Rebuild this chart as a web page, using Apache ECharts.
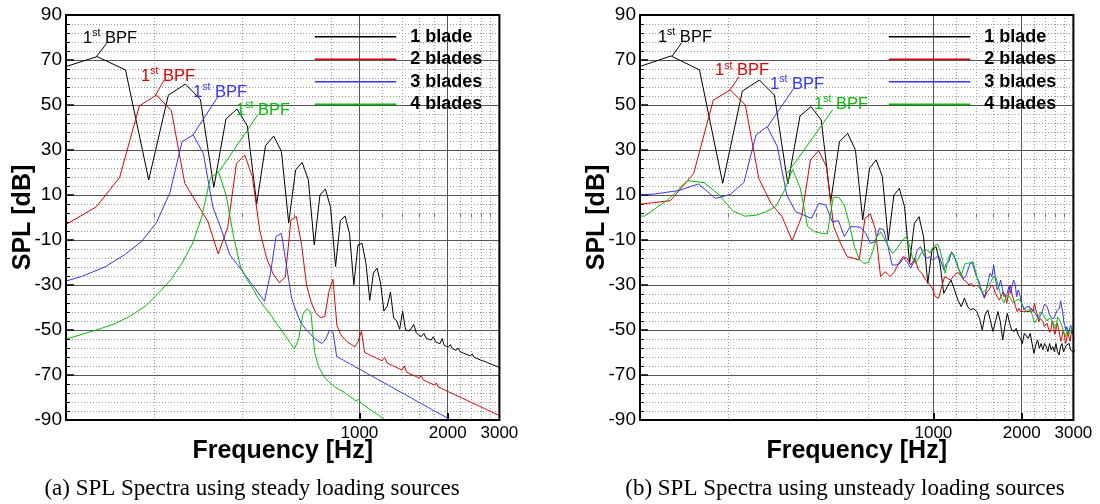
<!DOCTYPE html>
<html><head><meta charset="utf-8">
<script src="https://cdn.jsdelivr.net/npm/echarts@6/dist/echarts.min.js"></script>
<style>html,body{margin:0;padding:0;background:#fff}#c{width:1100px;height:504px}</style>
</head><body><div id="c"></div>
<script>
// ---------- DATA (frequency grids per blade count, SPL values per case) ----------
const SERIES_NAMES = ['1 blade', '2 blades', '3 blades', '4 blades'];

const FREQ_1 = [95.7,127.6,159.5,191.4,223.3,255.2,287.1,319,350.9,382.8,414.7,446.6,478.5,510.4,542.3,574.2,606.1,638,669.9,701.8,733.7,765.6,797.5,829.4,861.3,893.2,925.1,957,988.9,1020.8,1052.7,1084.6,1116.5,1148.4,1180.3,1212.2,1244.1,1276,1307.9,1339.8,1371.7,1403.6,1435.5,1467.4,1499.3,1531.2,1563.1,1595,1626.9,1658.8,1690.7,1722.6,1754.5,1786.4,1818.3,1850.2,1882.1,1914,1945.9,1977.8,2009.7,2041.6,2073.5,2105.4,2137.3,2169.2,2201.1,2233,2264.9,2296.8,2328.7,2360.6,2392.5,2424.4,2456.3,2488.2,2520.1,2552,2583.9,2615.8,2647.7,2679.6,2711.5,2743.4,2775.3,2807.2,2839.1,2871,2902.9,2934.8,2966.7,2998.6,3030.5];
const FREQ_2 = [76.2,101.6,127,152.4,177.8,203.2,228.6,254,279.4,304.8,330.2,355.6,381,406.4,431.8,457.2,482.6,508,533.4,558.8,584.2,609.6,635,660.4,685.8,711.2,736.6,762,787.4,812.8,838.2,863.6,889,914.4,939.8,965.2,990.6,1016,1041.4,1066.8,1092.2,1117.6,1143,1168.4,1193.8,1219.2,1244.6,1270,1295.4,1320.8,1346.2,1371.6,1397,1422.4,1447.8,1473.2,1498.6,1524,1549.4,1574.8,1600.2,1625.6,1651,1676.4,1701.8,1727.2,1752.6,1778,1803.4,1828.8,1854.2,1879.6,1905,1930.4,1955.8,1981.2,2006.6,2032,2057.4,2082.8,2108.2,2133.6,2159,2184.4,2209.8,2235.2,2260.6,2286,2311.4,2336.8,2362.2,2387.6,2413,2438.4,2463.8,2489.2,2514.6,2540,2565.4,2590.8,2616.2,2641.6,2667,2692.4,2717.8,2743.2,2768.6,2794,2819.4,2844.8,2870.2,2895.6,2921,2946.4,2971.8,2997.2,3022.6];
const FREQ_3 = [90.4,113,135.6,158.2,180.8,203.4,226,248.6,271.2,293.8,316.4,339,361.6,384.2,406.8,429.4,452,474.6,497.2,519.8,542.4,565,587.6,610.2,632.8,655.4,678,700.6,723.2,745.8,768.4,791,813.6,836.2,858.8,881.4,904,926.6,949.2,971.8,994.4,1017,1039.6,1062.2,1084.8,1107.4,1130,1152.6,1175.2,1197.8,1220.4,1243,1265.6,1288.2,1310.8,1333.4,1356,1378.6,1401.2,1423.8,1446.4,1469,1491.6,1514.2,1536.8,1559.4,1582,1604.6,1627.2,1649.8,1672.4,1695,1717.6,1740.2,1762.8,1785.4,1808,1830.6,1853.2,1875.8,1898.4,1921,1943.6,1966.2,1988.8,2011.4,2034,2056.6,2079.2,2101.8,2124.4,2147,2169.6,2192.2,2214.8,2237.4,2260,2282.6,2305.2,2327.8,2350.4,2373,2395.6,2418.2,2440.8,2463.4,2486,2508.6,2531.2,2553.8,2576.4,2599,2621.6,2644.2,2666.8,2689.4,2712,2734.6,2757.2,2779.8,2802.4,2825,2847.6,2870.2,2892.8,2915.4,2938,2960.6,2983.2,3005.8];
const FREQ_4 = [82.8,103.5,124.2,144.9,165.6,186.3,207,227.7,248.4,269.1,289.8,310.5,331.2,351.9,372.6,393.3,414,434.7,455.4,476.1,496.8,517.5,538.2,558.9,579.6,600.3,621,641.7,662.4,683.1,703.8,724.5,745.2,765.9,786.6,807.3,828,848.7,869.4,890.1,910.8,931.5,952.2,972.9,993.6,1014.3,1035,1055.7,1076.4,1097.1,1117.8,1138.5,1159.2,1179.9,1200.6,1221.3,1242,1262.7,1283.4,1304.1,1324.8,1345.5,1366.2,1386.9,1407.6,1428.3,1449,1469.7,1490.4,1511.1,1531.8,1552.5,1573.2,1593.9,1614.6,1635.3,1656,1676.7,1697.4,1718.1,1738.8,1759.5,1780.2,1800.9,1821.6,1842.3,1863,1883.7,1904.4,1925.1,1945.8,1966.5,1987.2,2007.9,2028.6,2049.3,2070,2090.7,2111.4,2132.1,2152.8,2173.5,2194.2,2214.9,2235.6,2256.3,2277,2297.7,2318.4,2339.1,2359.8,2380.5,2401.2,2421.9,2442.6,2463.3,2484,2504.7,2525.4,2546.1,2566.8,2587.5,2608.2,2628.9,2649.6,2670.3,2691,2711.7,2732.4,2753.1,2773.8,2794.5,2815.2,2835.9,2856.6,2877.3,2898,2918.7,2939.4,2960.1,2980.8,3001.5,3022.2];

// (a) steady loading sources
const STEADY_1 = [66.3,71.5,65.6,16.7,54.4,59.3,52.5,13.4,43.8,48.2,40.8,6,31.9,36.2,29.3,-2.5,21.1,24.5,16.7,-12.2,10,12.7,4.5,-21.8,-1.4,0.7,-7,-29.9,-12.2,-11.5,-20.3,-36.8,-24.7,-22.5,-29.1,-41.6,-39.4,-33.1,-44.6,-46,-49.7,-41.6,-49.7,-50.4,-49.5,-47.5,-51.2,-52.4,-52.9,-51.5,-53.7,-54.1,-54.5,-53,-55.3,-55.7,-56.1,-53.8,-56.9,-57.2,-57.6,-56.5,-58.3,-58.6,-59,-58,-59.6,-60,-60.3,-59.5,-60.9,-61.2,-61.5,-60.6,-62.1,-62.4,-62.7,-62.2,-63.3,-63.5,-63.8,-63.3,-64.3,-64.6,-64.9,-64.4,-65.4,-65.6,-65.9,-65.5,-66.4,-66.6,-66.9];
const STEADY_2 = [-6.5,-2.6,4.8,17.9,49.6,54.4,47.5,15.2,6.3,-1.9,-16.2,-4.5,24,27.8,18.1,-5.6,-18.1,-25,-29,-26.5,-1.1,0.4,-12,-30,-38,-42.5,-44.5,-44,-33,-27.5,-48,-52,-54,-55.5,-56.5,-57.5,-55,-50.5,-60,-60.6,-61.3,-61.9,-62.5,-63.1,-63.6,-62.2,-64.7,-65.3,-65.8,-66.3,-66.8,-67.3,-67.8,-66,-68.8,-69.2,-69.7,-70.1,-70.5,-71,-71.4,-70.3,-72.2,-72.6,-73,-73.4,-73.8,-74.2,-74.5,-73.5,-75.3,-75.6,-76,-76.3,-76.7,-77,-77.4,-76.6,-78,-78.3,-78.7,-79,-79.3,-79.6,-79.9,-79.2,-80.5,-80.8,-81.1,-81.4,-81.7,-82,-82.3,-81.7,-82.8,-83.1,-83.3,-83.6,-83.9,-84.2,-84.4,-84,-84.9,-85.2,-85.4,-85.7,-85.9,-86.2,-86.4,-86,-86.9,-87.1,-87.3,-87.6,-87.8,-88,-88.2];
const STEADY_3 = [-30,-26.2,-22,-16.6,-10.7,-2.3,11,33.7,36.7,28.5,4.8,-5.6,-16.6,-21,-25.4,-29.5,-33.5,-37.2,-25,-8.5,-7,-22,-36,-42,-47,-49.5,-51.5,-53.5,-55,-56,-54,-50,-51,-61.7,-62.6,-63.4,-64.2,-65,-65.7,-66.5,-67.2,-67.9,-68.6,-69.3,-70,-70.6,-71.2,-71.9,-72.5,-73.1,-73.7,-74.2,-74.8,-75.4,-75.9,-76.5,-77,-77.5,-78,-78.5,-79,-79.5,-80,-80.5,-80.9,-81.4,-81.9,-82.3,-82.7,-83.2,-83.6,-84,-84.4,-84.8,-85.3,-85.7,-86.1,-86.4,-86.8,-87.2,-87.6,-88,-88.3,-88.7,-89.1,-89.4,-89.8,-90.1,-90.5];
const STEADY_4 = [-54.5,-53.5,-50.4,-47.5,-43.8,-39.4,-33.5,-27.6,-20.3,-12,0,17.5,20.4,9.5,-8.5,-22,-27.5,-32,-36.5,-40,-43,-46.5,-49.5,-52.5,-55.5,-58.5,-54,-43,-40.5,-42,-60,-66,-69,-71.5,-73,-74.3,-75.5,-76.3,-77,-77.8,-78.8,-79.7,-80.6,-81.5,-80.8,-82.6,-83.4,-84.2,-85,-85.7,-86.4,-87.1,-87.8,-88.5,-89.2,-89.9,-90.6,-91.3,-92];

// (b) unsteady loading sources
const UNSTEADY_1 = [66.3,71.8,65.6,15.2,56.2,61.1,54.4,14.9,45.1,49.3,43.3,7,33.7,37.4,30,-1.1,21.9,25.6,18.2,-10,10,12.9,4.8,-20.4,-2.6,0.4,-8.5,-29.3,-14.4,-13,-20.4,-33.7,-30.7,-27.8,-32.2,-36.7,-39.6,-35.9,-39.6,-41.1,-40.4,-41.8,-44.8,-50,-43.3,-41.1,-45.6,-50.7,-46.3,-41.8,-46.3,-54.4,-47.8,-42.6,-47,-50,-50.7,-49.3,-52.2,-53.7,-56,-51.5,-52.2,-53.7,-51.5,-56,-60.4,-56.7,-54.4,-58.1,-56,-58.9,-56,-57.4,-59.6,-56,-58.9,-57.4,-59.6,-56,-59.6,-61.1,-57.4,-56,-59.6,-60.4,-56.7,-57.4,-56,-58.9,-59.6,-59.9,-59];
const UNSTEADY_2 = [5.8,6,7.5,19.6,52.2,56.7,50,17.4,6.3,0.4,-10.3,0.4,25.6,29.7,22.6,-4.1,-11.5,-17.4,-18.1,-18.9,-0.4,1.6,-5.6,-26.3,-24.1,-26.3,-24.1,-20.4,-17.4,-18.1,-21.1,-18.1,-23.3,-24.8,-27.8,-29.3,-31.5,-35.2,-35.9,-30.7,-26.3,-27,-27.8,-26.3,-24.8,-24.5,-26.3,-27.8,-28.5,-30,-29.3,-30.7,-30,-30.7,-31.9,-33.7,-35.2,-33,-32.2,-30,-30.7,-33.7,-35.2,-36.7,-35.2,-33,-34.4,-38.1,-33.7,-30,-34.4,-36.7,-39.6,-41.8,-40.4,-41.8,-41.1,-41.8,-41.1,-41.8,-41.1,-41.8,-40.4,-41.8,-38.1,-41.1,-43.3,-46.3,-44.8,-44.1,-46.3,-48.5,-47.8,-47,-49,-51,-50,-46,-48,-52,-50,-47,-49,-52,-55,-53,-50,-52,-56,-54,-51,-53,-55,-52,-50,-53,-54];
const UNSTEADY_3 = [9.5,10.5,12,14.9,8.5,10.3,15.6,36.7,40.4,31.5,10,2.6,1.1,-0.4,6.3,5.6,-1.9,-1.4,-8.5,-4.1,-4.1,-4.4,-7,-11.5,-10.7,-4.8,-5.6,-13,-21.1,-21.1,-20.4,-18.1,-19.6,-22.6,-19.6,-14.4,-13,-16.7,-18.1,-17.4,-18.9,-18.1,-16.7,-19.6,-23.3,-20.4,-19.6,-15.2,-16.7,-20.4,-23.3,-24.8,-27,-26.3,-23.3,-20.4,-20.1,-23.3,-26.3,-27.8,-30.7,-33.7,-35.9,-32.2,-28.5,-24.8,-26.3,-21.1,-27,-32.2,-30.7,-27.8,-31.5,-35.2,-35.9,-33.7,-30.7,-33.7,-30.7,-27.8,-29.3,-35.2,-32.2,-33.7,-37.4,-38.9,-41.1,-40.4,-39.6,-40,-39.6,-41.8,-42,-41.1,-40.4,-43.3,-44.1,-45,-45.6,-43,-41.8,-39.6,-38.5,-38,-39.6,-41.1,-43.3,-44.1,-44.8,-44.5,-44.8,-43.3,-42.6,-41.1,-41.5,-40.4,-37,-37.4,-42,-46,-48,-50,-48.5,-50,-51,-49,-47.8,-50,-51.5,-50];
const UNSTEADY_4 = [1.5,0.6,7.8,16.4,15.5,10,3,0.6,1,2.6,4.8,12,21.4,13,-4,-6.3,-7,-7.3,9,9,5.5,-3,-13,-18.5,-20.4,-20,-15,-8.5,-6.5,-10,-13,-15.9,-14.5,-12,-10,-8.5,-12,-18,-20.4,-18,-15.5,-14.4,-14.4,-15.9,-13.5,-12.2,-12,-15,-19.5,-24.8,-19.5,-16.5,-16,-18,-19.6,-23,-26,-23,-20.4,-20.4,-20.2,-19.8,-19.6,-23,-26.3,-29.5,-32,-33.5,-33.2,-32,-30.8,-30,-28.5,-26.5,-26.3,-26.8,-29.5,-32,-35,-36.5,-37.8,-38.5,-34.5,-34.2,-35.3,-36.5,-37.8,-38.1,-37.2,-36.7,-36.2,-35.9,-37.5,-38.8,-39.6,-40.6,-41.8,-41.5,-41,-41.2,-41.5,-43.5,-45.5,-46.8,-46.5,-45,-44,-43,-42,-42.3,-42.8,-43.8,-44.8,-45.5,-46,-45,-44.5,-45,-45.5,-46,-46.5,-48,-49.5,-47,-44.3,-45,-45.5,-46.5,-47.5,-49,-50.5,-52,-53,-51.5,-50,-51,-52,-51,-50.5,-49.5,-49,-49.5,-50];

// axis tick values
const Y_MAJOR_STEP = 20, Y_MINOR_STEP = 4, Y_MIN = -90, Y_MAX = 90;
const X_MIN = 100, X_MAX = 3000;
const X_LABEL_VALUES = [1000, 2000, 3000];
const X_MAJOR_LINES = [1000, 2000];
const X_MINOR_LINES = [200, 400, 600, 800, 1200, 1400, 1600, 1800, 2200, 2400, 2600, 2800];

// "1st BPF" annotations: [peak, leader end, text centre] in data coordinates
const ANNOT = {
  steady:   [ {from:[126.9,71.5], to:[137.6,77.4], text:[141.2,80.4]},
              {from:[201.9,54.4], to:[216.1,61.1], text:[222.6,63.3]},
              {from:[270.9,36.7], to:[329.6,53.7], text:[334.8,56.2]},
              {from:[332.5,20.4], to:[451.6,45.9], text:[469.6,48.4]} ],
  unsteady: [ {from:[128.9,71.8], to:[138.7,77.7], text:[142.3,80.7]},
              {from:[202.6,56.7], to:[217.6,62.6], text:[222.6,65.8]},
              {from:[272.4,40.4], to:[332.9,57.1], text:[342.9,59.8]},
              {from:[317.8,19.6], to:[453.6,47.8], text:[484.6,50.9]} ]
};

// ---------- STYLE / LAYOUT ----------
const COLORS = ['#000000', '#e00000', '#3333ff', '#00c000'];
const SANS = 'Liberation Sans, Arial, Helvetica, sans-serif';
const SERIF = 'Liberation Serif, Times New Roman, serif';
const GRIDS = [{left:66, top:15, width:433.4, height:405}, {left:640, top:15, width:433.4, height:405}];

function pairs(F, V) { return V.map((v, i) => [F[i], v]); }

function annotate(color, a) {
  return {
    markLine: {
      silent: true, animation: false, symbol: ['none', 'none'],
      label: {show: false}, emphasis: {disabled: true},
      lineStyle: {color: color, width: 1, type: 'solid'},
      data: [[{coord: a.from}, {coord: a.to}]]
    },
    markPoint: {
      silent: true, animation: false, symbol: 'circle', symbolSize: 0,
      itemStyle: {color: 'rgba(0,0,0,0)'},
      label: {
        show: true, position: 'inside', formatter: '{n|1}{s|st}{n| BPF}',
        rich: {
          n: {fontSize: 16.5, fontFamily: SANS, color: color, lineHeight: 20, verticalAlign: 'bottom'},
          s: {fontSize: 10.5, fontFamily: SANS, color: color, lineHeight: 20, verticalAlign: 'top', padding: [1, 0, 0, 0]}
        }
      },
      data: [{coord: a.text}]
    }
  };
}

function lineSeries(i, F, V, axis, a) {
  return Object.assign({
    type: 'line', name: SERIES_NAMES[i], xAxisIndex: axis, yAxisIndex: axis,
    data: pairs(F, V), symbol: 'none', showSymbol: false, clip: true,
    color: COLORS[i], lineStyle: {color: COLORS[i], width: 1}, itemStyle: {color: COLORS[i]},
    animation: false, silent: true, z: 2 + i
  }, annotate(COLORS[i], a));
}

function xMain(gi) {
  return {
    type: 'log', logBase: 10, gridIndex: gi, min: X_MIN, max: X_MAX, position: 'bottom', z: 1,
    axisLine: {show: true, onZero: false, lineStyle: {color: '#000', width: 2}},
    axisTick: {show: true, inside: true, length: 7, customValues: X_MAJOR_LINES, lineStyle: {color: '#000', width: 2}},
    axisLabel: {show: true, customValues: X_LABEL_VALUES, formatter: v => String(Math.round(v)),
                fontSize: 17, color: '#000', fontFamily: SANS, margin: 5, hideOverlap: false},
    splitLine: {show: true, lineStyle: {color: '#555', width: 1}},
    minorTick: {show: false}, minorSplitLine: {show: false},
    name: 'Frequency [Hz]', nameLocation: 'middle', nameGap: 18.5, nameMoveOverlap: false,
    nameTextStyle: {fontSize: 25, fontWeight: 'bold', color: '#000', fontFamily: SANS}
  };
}
function xMinor(gi) {
  return {
    type: 'log', logBase: 10, gridIndex: gi, min: X_MIN, max: X_MAX, position: 'bottom', z: 0,
    axisLine: {show: false}, axisLabel: {show: false},
    axisTick: {show: true, inside: true, length: 4, customValues: X_MINOR_LINES, lineStyle: {color: '#777'}},
    splitLine: {show: true, lineStyle: {color: '#999', width: 1, type: [1, 2]}}
  };
}
function yMain(gi) {
  return {
    type: 'value', gridIndex: gi, min: Y_MIN, max: Y_MAX, interval: Y_MAJOR_STEP, position: 'left', z: 1,
    axisLine: {show: true, onZero: false, lineStyle: {color: '#000', width: 2}},
    axisTick: {show: true, inside: true, length: 8, lineStyle: {color: '#000', width: 1.5}},
    axisLabel: {fontSize: 19, color: '#000', fontFamily: SANS, margin: 4},
    splitLine: {show: true, lineStyle: {color: '#555', width: 1}},
    name: 'SPL [dB]', nameLocation: 'middle', nameGap: 30, nameRotate: 90, nameMoveOverlap: false,
    nameTextStyle: {fontSize: 25, fontWeight: 'bold', color: '#000', fontFamily: SANS}
  };
}
function yMinor(gi) {
  return {
    type: 'value', gridIndex: gi, min: Y_MIN, max: Y_MAX, interval: Y_MINOR_STEP, position: 'left', z: 0,
    axisLine: {show: false}, axisLabel: {show: false},
    axisTick: {show: true, inside: true, length: 4, lineStyle: {color: '#000', width: 1}},
    splitLine: {show: true, lineStyle: {color: '#999', width: 1, type: [1, 2]}}
  };
}

const series = [];
const steadyVals = [STEADY_1, STEADY_2, STEADY_3, STEADY_4];
const unsteadyVals = [UNSTEADY_1, UNSTEADY_2, UNSTEADY_3, UNSTEADY_4];
const freqs = [FREQ_1, FREQ_2, FREQ_3, FREQ_4];
for (let i = 0; i < 4; i++) series.push(lineSeries(i, freqs[i], steadyVals[i], 0, ANNOT.steady[i]));
for (let i = 0; i < 4; i++) series.push(lineSeries(i, freqs[i], unsteadyVals[i], 2, ANNOT.unsteady[i]));

function legendFor(left) {
  return {
    data: SERIES_NAMES, orient: 'vertical', left: left, top: 25.7, padding: 0,
    icon: 'rect', itemWidth: 81.5, itemHeight: 1.6, itemGap: 0.5, selectedMode: false,
    textStyle: {fontSize: 18, fontWeight: 'bold', fontFamily: SANS, color: '#000', lineHeight: 22, padding: [0, 0, 0, 9]}
  };
}

const option = {
  backgroundColor: '#fff',
  animation: false,
  grid: GRIDS.map(g => Object.assign({show: true, borderColor: '#000', borderWidth: 2, backgroundColor: 'rgba(0,0,0,0)', z: 10, containLabel: false}, g)),
  xAxis: [xMain(0), xMinor(0), xMain(1), xMinor(1)],
  yAxis: [yMain(0), yMinor(0), yMain(1), yMinor(1)],
  legend: [legendFor(314.8), legendFor(888.8)],
  series: series,
  graphic: [
    {type: 'text', x: 252, y: 489, silent: true,
     style: {text: '(a) SPL Spectra using steady loading sources', font: '23px ' + SERIF, fill: '#000', align: 'center', verticalAlign: 'middle'}},
    {type: 'text', x: 845, y: 489, silent: true,
     style: {text: '(b) SPL Spectra using unsteady loading sources', font: '23px ' + SERIF, fill: '#000', align: 'center', verticalAlign: 'middle'}}
  ]
};

const chart = echarts.init(document.getElementById('c'), null, {renderer: 'canvas'});
chart.setOption(option);
</script>
</body></html>
